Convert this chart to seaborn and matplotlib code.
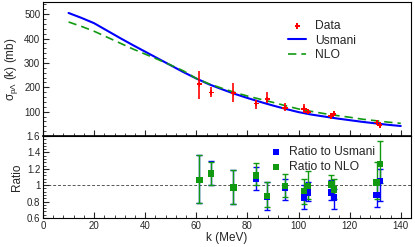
import numpy as np
import pandas as pd
import matplotlib
matplotlib.use('Agg')
import matplotlib.pyplot as plt
from matplotlib.ticker import MultipleLocator
import seaborn as sns

# theory curves
k_curve = [10, 15, 20, 25, 30, 35, 40, 45, 50, 55, 60, 65, 70, 75, 80, 85, 90,
           95, 100, 105, 110, 115, 120, 125, 130, 135, 140]
usmani = [505, 485, 463, 433, 403, 374, 346, 318, 290, 262, 236, 212, 192, 173,
          156, 140, 125, 111, 98, 88, 80, 72, 65, 58, 52, 46, 41]
nlo = [468, 450, 430, 406, 382, 358, 336, 314, 291, 267, 236, 214, 196, 179,
       164, 151, 138, 124, 111, 101, 92, 84, 77, 69, 63, 57, 52]

# measured cross sections
k_data = [61.2, 65.8, 74.5, 83.4, 87.7, 94.7, 102.1, 103.7, 112.7, 113.8, 130.6, 131.8]
sigma = [212, 179, 175, 133, 151, 116, 111, 100, 82, 91, 55, 45]
sigma_lo = [152, 159, 138, 111, 134, 103, 93, 90, 74, 84, 50, 38]
sigma_hi = [268, 200, 216, 148, 182, 134, 131, 112, 90, 98, 62, 52]

# ratios
r_us = [1.065, 1.15, 0.975, 1.08, 0.857, 0.97, 0.85, 0.91, 0.91, 0.85, 0.88, 1.05]
r_us_lo = [0.78, 1.0, 0.765, 0.94, 0.695, 0.82, 0.71, 0.81, 0.82, 0.715, 0.74, 0.81]
r_us_hi = [1.37, 1.29, 1.19, 1.22, 1.04, 1.07, 1.00, 1.04, 1.06, 0.95, 1.03, 1.20]
r_nlo = [1.065, 1.14, 0.975, 1.12, 0.866, 0.99, 0.93, 0.99, 1.01, 0.95, 1.03, 1.26]
r_nlo_lo = [0.78, 1.0, 0.765, 1.0, 0.735, 0.85, 0.77, 0.83, 0.90, 0.83, 0.83, 1.03]
r_nlo_hi = [1.37, 1.28, 1.19, 1.27, 1.04, 1.14, 1.07, 1.17, 1.12, 1.07, 1.28, 1.54]

sns.set_style("ticks")
plt.rcParams['font.family'] = ['Liberation Sans', 'DejaVu Sans']
plt.rcParams['mathtext.fontset'] = 'custom'
plt.rcParams['mathtext.rm'] = 'Liberation Sans'
plt.rcParams['mathtext.it'] = 'Liberation Sans'

fig = plt.figure(figsize=(4.15, 2.47), dpi=100)
ax1 = fig.add_axes([43/415, 1-136/247, 368/415, 134/247])
ax2 = fig.add_axes([43/415, 1-218/247, 368/415, 82/247])

curves = pd.DataFrame({'k': k_curve, 'Usmani': usmani, 'NLO': nlo})
sns.lineplot(data=curves, x='k', y='Usmani', ax=ax1, color='#0000ff', lw=1.5, label='Usmani')
sns.lineplot(data=curves, x='k', y='NLO', ax=ax1, color='#119911', lw=1.2,
             linestyle=(0, (5, 3)), label='NLO')

sig = np.array(sigma)
ax1.errorbar(k_data, sig, yerr=[sig - np.array(sigma_lo), np.array(sigma_hi) - sig],
             fmt='none', ecolor='#ff0000', elinewidth=1.2, capsize=0)
sns.scatterplot(x=k_data, y=sigma, ax=ax1, marker='P', s=14, color='#ff0000',
                edgecolor='none', label='Data', zorder=5)

ax1.set_xlim(0, 144)
ax1.set_ylim(0, 550)
ax1.set_xlabel('')
ax1.set_ylabel(r'σ$_{\mathrm{p\Lambda}}$ (k) (mb)', fontsize=8.5, labelpad=3)
ax1.set_yticks([100, 200, 300, 400, 500])
ax1.yaxis.set_minor_locator(MultipleLocator(20))
h, l = ax1.get_legend_handles_labels()
order = [l.index('Data'), l.index('Usmani'), l.index('NLO')]
ax1.legend([h[i] for i in order], [l[i] for i in order], loc='upper left',
           bbox_to_anchor=(0.65, 0.91), frameon=False, fontsize=8.7,
           handlelength=1.5, labelspacing=0.2, borderpad=0, handletextpad=0.7)

for r, lo, hi, c, lab in [(r_us, r_us_lo, r_us_hi, '#0000ff', 'Ratio to Usmani'),
                          (r_nlo, r_nlo_lo, r_nlo_hi, '#119911', 'Ratio to NLO')]:
    rr = np.array(r)
    ax2.errorbar(k_data, rr, yerr=[rr - np.array(lo), np.array(hi) - rr], fmt='none',
                 ecolor=c, elinewidth=1.0, capsize=2, capthick=1.0)
    sns.scatterplot(x=k_data, y=r, ax=ax2, marker='s', s=22, color=c,
                    edgecolor='none', label=lab, zorder=5)
ax2.axhline(1.0, color='#555555', lw=0.7, linestyle=(0, (3, 2)), zorder=0)
ax2.set_xlim(0, 144)
ax2.set_ylim(0.6, 1.6)
ax2.xaxis.set_major_locator(MultipleLocator(20))
ax2.xaxis.set_minor_locator(MultipleLocator(4))
ax2.yaxis.set_minor_locator(MultipleLocator(0.04))
ax2.set_yticks([0.6, 0.8, 1.0, 1.2, 1.4, 1.6])
ax2.set_yticklabels(['0.6', '0.8', '1', '1.2', '1.4', '1.6'])
ax2.set_xlabel('k (MeV)', fontsize=8.5, labelpad=1)
ax2.set_ylabel('Ratio', fontsize=8.5, labelpad=3)
ax2.legend(loc='upper left', bbox_to_anchor=(0.6, 0.95), frameon=False, fontsize=8.7,
           handlelength=1.0, labelspacing=0.25, borderpad=0, handletextpad=0.6)

ax1.xaxis.set_major_locator(MultipleLocator(20))
ax1.xaxis.set_minor_locator(MultipleLocator(4))
ax1.set_xticklabels([])
for ax in (ax1, ax2):
    ax.tick_params(which='both', direction='in', labelsize=7, pad=2, top=False, right=False)
    ax.tick_params(which='major', length=4, width=0.8)
    ax.tick_params(which='minor', length=2, width=0.6)
    for s in ax.spines.values():
        s.set_linewidth(0.8)
        s.set_color('black')
ax1.spines['bottom'].set_linewidth(1.2)

fig.savefig('out.png', dpi=100)
